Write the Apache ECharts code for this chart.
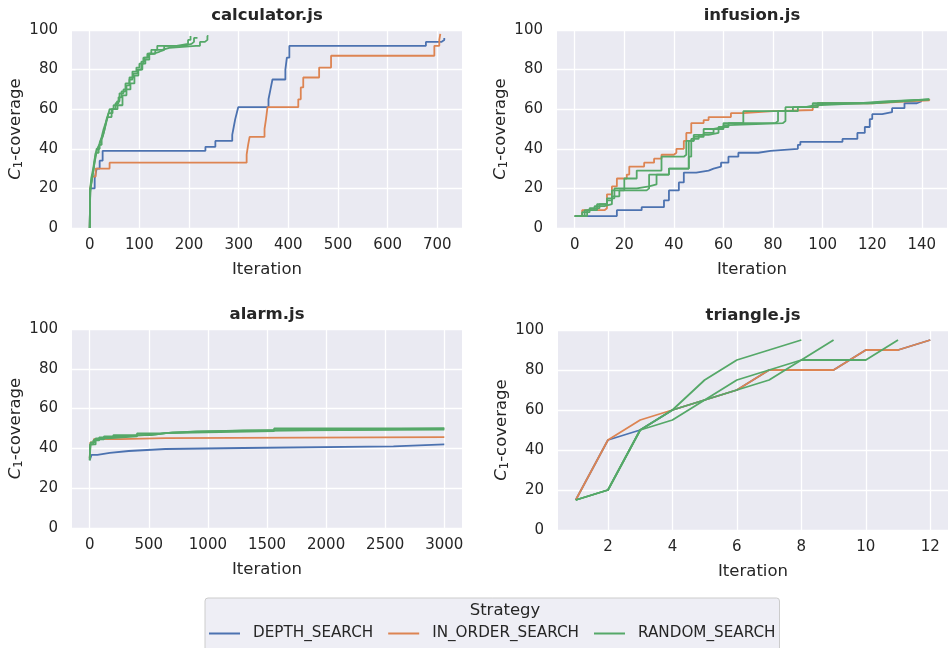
<!DOCTYPE html>
<html>
<head>
<meta charset="utf-8">
<script src="https://cdn.jsdelivr.net/npm/echarts@6/dist/echarts.min.js"></script>
<style>
  html, body { margin: 0; padding: 0; background: #fff; }
  #chart { width: 949px; height: 648px; }
</style>
</head>
<body>
<div id="chart"></div>
<script>
  // ---- data: [iteration, coverage] where coverage changes ----
  var calcDepth = [[0, 0], [1, 20], [10, 25], [14, 30], [20, 34], [26, 39], [233, 41], [253, 44], [287, 47], [290, 51], [293, 55], [296, 58], [299, 61], [360, 65], [364, 70], [368, 75], [394, 80], [397, 86], [402, 92], [677, 94], [708, 95], [714, 96]]
  var calcInOrder = [[0, 0], [1, 20], [5, 26], [12, 30], [40, 33], [316, 37], [319, 42], [322, 46], [352, 50], [355, 55], [358, 61], [420, 65], [425, 71], [430, 76], [462, 81], [486, 87], [694, 92], [704, 95], [706, 98]]
  var calcRandom1 = [[0, 0], [1, 18], [3, 22], [6, 27], [9, 32], [12, 36], [15, 40], [19, 42], [24, 45], [28, 48], [32, 52], [36, 56], [40, 60], [48, 62], [55, 64], [60, 68], [68, 70], [74, 72], [80, 76], [88, 78], [96, 80], [104, 84], [110, 86], [118, 88], [128, 89], [140, 90], [150, 92], [175, 93], [198, 95], [203, 97]]
  var calcRandom2 = [[0, 0], [1, 19], [4, 24], [8, 30], [12, 38], [18, 41], [22, 44], [26, 46], [30, 50], [34, 55], [38, 58], [46, 60], [52, 63], [58, 66], [64, 69], [72, 73], [80, 75], [86, 79], [94, 81], [100, 83], [108, 86], [116, 88], [124, 90], [136, 92], [190, 93], [205, 94], [210, 96], [217, 96]]
  var calcRandom3 = [[0, 0], [1, 20], [3, 25], [7, 30], [10, 35], [14, 40], [20, 43], [24, 46], [28, 50], [32, 53], [36, 56], [44, 60], [56, 62], [66, 67], [74, 70], [82, 73], [90, 77], [98, 80], [106, 83], [112, 85], [120, 88], [132, 90], [146, 91], [160, 92], [214, 92], [222, 94], [232, 95], [237, 97], [239, 97]]

  var infDepth = [[0, 6], [17, 9], [27, 10.5], [36, 14], [38, 19], [42, 23], [44, 28], [49, 29], [54, 30], [56, 31], [59, 33], [62, 36], [66, 38], [74, 39], [79, 40], [90, 42], [91, 43.5], [108, 45], [114, 48], [117, 51], [119, 55], [120, 57.5], [124, 58.5], [128, 60.5], [133, 63], [138, 64], [140, 64]]
  var infInOrder = [[0, 6], [3, 9], [12, 10], [13, 17], [15, 21], [17, 25], [21, 27], [22, 31], [28, 33], [32, 35], [35, 37], [40, 38], [41, 40], [44, 44], [45, 48], [47, 53], [52, 54.5], [54, 56], [63, 58], [68, 59], [80, 59.6], [96, 61], [98, 63], [120, 64], [135, 64.5], [143, 65]]
  var infRandom1 = [[0, 6], [3, 8], [6, 10], [10, 12], [13, 15], [16, 20], [25, 21], [30, 22], [33, 27], [38, 30], [46, 36], [47, 45], [50, 47], [54, 48], [58, 51], [62, 53], [68, 59], [85, 61], [96, 63], [120, 64], [132, 65], [143, 65]]
  var infRandom2 = [[0, 6], [4, 9], [8, 11], [12, 12], [15, 16], [18, 19], [29, 20], [30, 27], [38, 30], [44, 30], [46, 44], [48, 46], [52, 48], [56, 50], [60, 52], [62, 53], [84, 54], [85, 59], [90, 61], [98, 63], [118, 64], [128, 65], [143, 65]]
  var infRandom3 = [[0, 6], [5, 9], [9, 12], [13, 14], [15, 19], [20, 25], [25, 29], [35, 36], [44, 37], [45, 44], [48, 47], [52, 50], [56, 51], [60, 53], [81, 54], [82, 59], [88, 61], [93, 62], [97, 63], [115, 64], [125, 65], [143, 65]]

  var alarmDepth = [[0, 34], [15, 36.7], [65, 37.7], [170, 38.7], [330, 39.7], [640, 40.2], [1300, 41], [2570, 42], [3000, 42]]
  var alarmInOrder = [[0, 35], [5, 43], [35, 44.7], [260, 45.2], [640, 45.7], [3000, 45.7]]
  var alarmRandom1 = [[0, 34], [5, 42], [30, 44], [80, 45.5], [200, 46.7], [520, 47.7], [640, 48.7], [1560, 50], [3000, 50]]
  var alarmRandom2 = [[0, 35], [8, 43], [40, 44.5], [120, 46], [300, 47], [560, 48], [700, 49], [1300, 49.5], [3000, 49.5]]
  var alarmRandom3 = [[0, 34], [4, 42], [50, 45], [150, 46], [400, 47.5], [600, 48.5], [900, 49], [1500, 50], [3000, 50]]

  // triangle.js: one value per iteration, starting at iteration 1
  var triDepth = [15, 45, 50, 60, 65, 70, 80, 80, 80, 90, 90, 95]
  var triInOrder = [15, 45, 55, 60, 65, 70, 80, 80, 80, 90, 90, 95]
  var triRandom1 = [15, 20, 50, 60, 75, 85, 90, 95]
  var triRandom2 = [15, 20, 50, 60, 65, 75, 80, 85, 95]
  var triRandom3 = [15, 20, 50, 55, 65, 70, 75, 85, 85, 85, 95]

  var calcTicks = [0, 100, 200, 300, 400, 500, 600, 700]
  var infTicks = [0, 20, 40, 60, 80, 100, 120, 140]
  var alarmTicks = [0, 500, 1000, 1500, 2000, 2500, 3000]
  var triTicks = [2, 4, 6, 8, 10, 12]

  var titles = ['calculator.js', 'infusion.js', 'alarm.js', 'triangle.js']
  var strategies = ['DEPTH_SEARCH', 'IN_ORDER_SEARCH', 'RANDOM_SEARCH']
  var colors = ['#4C72B0', '#DD8452', '#55A868']

  var FONT = 'DejaVu Sans'
  var TXT = '#262626'

  var grids = [
    {left: 72, top: 30, width: 390, height: 198},
    {left: 557, top: 30, width: 390, height: 198},
    {left: 72, top: 329, width: 390, height: 199},
    {left: 558, top: 330, width: 390, height: 200}
  ]
  var xRanges = [[-35.7, 749.7], [-7.15, 150.15], [-150, 3150], [0.45, 12.55]]
  var xTicks = [calcTicks, infTicks, alarmTicks, triTicks]

  function toPairs (arr) {
    return arr.map(function (v, i) { return [i + 1, v] })
  }

  function xAxisFor (i) {
    return {
      type: 'value',
      gridIndex: i,
      min: xRanges[i][0],
      max: xRanges[i][1],
      axisLine: {show: false},
      axisTick: {show: false, customValues: xTicks[i]},
      axisLabel: {
        customValues: xTicks[i],
        fontSize: 15,
        fontFamily: FONT,
        color: TXT,
        margin: 10,
        formatter: function (v) { return String(v) }
      },
      splitLine: {show: true, lineStyle: {color: '#ffffff', width: 1.3}},
      name: 'Iteration',
      nameLocation: 'middle',
      nameGap: 33,
      nameTextStyle: {fontSize: 16.5, fontFamily: FONT, color: TXT}
    }
  }

  function yAxisFor (i) {
    return {
      type: 'value',
      gridIndex: i,
      min: 0,
      max: 100,
      interval: 20,
      axisLine: {show: false},
      axisTick: {show: false},
      axisLabel: {fontSize: 15, fontFamily: FONT, color: TXT, margin: 14},
      splitLine: {show: true, lineStyle: {color: '#ffffff', width: 1.3}},
      name: '{i|C}{s|1}{t|-coverage}',
      nameLocation: 'middle',
      nameGap: 41,
      nameRotate: 90,
      nameTextStyle: {
        fontFamily: FONT,
        color: TXT,
        rich: {
          i: {fontSize: 16.5, fontStyle: 'italic', fontFamily: FONT, color: TXT, lineHeight: 20, verticalAlign: 'middle'},
          s: {fontSize: 11.5, fontFamily: FONT, color: TXT, lineHeight: 20, verticalAlign: 'bottom'},
          t: {fontSize: 16.5, fontFamily: FONT, color: TXT, lineHeight: 20, verticalAlign: 'middle'}
        }
      }
    }
  }

  function line (k, idx, data, stepped) {
    return {
      name: strategies[k],
      type: 'line',
      xAxisIndex: idx,
      yAxisIndex: idx,
      data: data,
      step: stepped ? 'end' : false,
      showSymbol: false,
      symbol: 'none',
      lineStyle: {width: 1.8, color: colors[k]},
      itemStyle: {color: colors[k]},
      emphasis: {disabled: true},
      animation: false
    }
  }

  var series = [
    line(0, 0, calcDepth, true), line(1, 0, calcInOrder, true),
    line(2, 0, calcRandom1, true), line(2, 0, calcRandom2, true), line(2, 0, calcRandom3, true),
    line(0, 1, infDepth, true), line(1, 1, infInOrder, true),
    line(2, 1, infRandom1, true), line(2, 1, infRandom2, true), line(2, 1, infRandom3, true),
    line(0, 2, alarmDepth, true), line(1, 2, alarmInOrder, true),
    line(2, 2, alarmRandom1, true), line(2, 2, alarmRandom2, true), line(2, 2, alarmRandom3, true),
    line(0, 3, toPairs(triDepth), false), line(1, 3, toPairs(triInOrder), false),
    line(2, 3, toPairs(triRandom1), false), line(2, 3, toPairs(triRandom2), false), line(2, 3, toPairs(triRandom3), false)
  ]

  var titleGraphics = titles.map(function (t, i) {
    var g = grids[i]
    return {
      type: 'text',
      z: 100,
      x: g.left + g.width / 2,
      y: g.top - 14,
      style: {text: t, font: 'bold 16.5px "DejaVu Sans"', fill: TXT, textAlign: 'center', textVerticalAlign: 'middle'}
    }
  })
  titleGraphics.push({
    type: 'text',
    z: 100,
    x: 505,
    y: 611,
    style: {text: 'Strategy', font: '16.5px "DejaVu Sans"', fill: TXT, textAlign: 'center', textVerticalAlign: 'middle'}
  })

  var option = {
    backgroundColor: '#ffffff',
    animation: false,
    grid: grids.map(function (g) {
      return {left: g.left, top: g.top, width: g.width, height: g.height, show: true, backgroundColor: '#EAEAF2', borderWidth: 0}
    }),
    xAxis: [0, 1, 2, 3].map(xAxisFor),
    yAxis: [0, 1, 2, 3].map(yAxisFor),
    legend: {
      data: strategies,
      left: 205,
      top: 598,
      orient: 'horizontal',
      padding: [28, 4, 14, 4],
      itemGap: 15,
      itemWidth: 31,
      itemHeight: 2,
      icon: 'rect',
      backgroundColor: '#EEEEF5',
      borderColor: '#CCCCCC',
      borderWidth: 1,
      borderRadius: 3,
      selectedMode: false,
      textStyle: {fontSize: 15.2, fontFamily: FONT, color: TXT, padding: [0, 0, 0, 8]}
    },
    graphic: titleGraphics,
    series: series
  }

  var chart = echarts.init(document.getElementById('chart'))
  chart.setOption(option)
</script>
</body>
</html>
